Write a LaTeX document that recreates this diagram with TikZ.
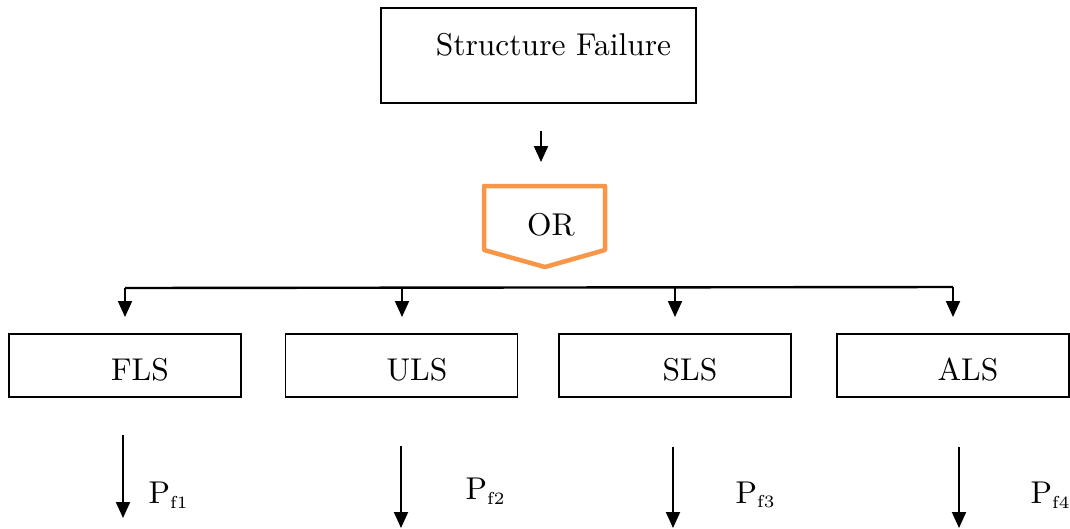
\documentclass[tikz,border=0pt]{standalone}
\usetikzlibrary{arrows.meta}
\definecolor{gateorange}{HTML}{F79646}
% labels are set at the 10pt design size and enlarged
\newcommand\biglabel[1]{\scalebox{3.15}{\fontsize{10}{12}\selectfont #1}}
% failure probability symbol with a small subscript
\newcommand\pfail[1]{P\raisebox{-0.35ex}{\fontsize{5.5}{6}\selectfont f#1}}
\begin{document}
\begin{tikzpicture}[x=1pt,y=-1pt,
  box/.style={draw=black,line width=1.2pt,minimum width=#1,inner sep=0pt},
  box/.default=232pt,
  lsbox/.style={box,minimum height=63pt},
  flow/.style={line width=2pt,-{Triangle[length=16pt,width=14pt]}},
  bus/.style={line width=2.4pt},
  gate/.style={draw=gateorange,line width=4.5pt,line join=round}]
\useasboundingbox (0,0) rectangle (1070,528);

% top event
\node[box=315pt,minimum height=95pt] (top) at (538.5,55.5) {};
\node (toptext) at (553.5,45) {\biglabel{Structure Failure}};

% arrow into the OR gate
\coordinate (a1) at (541,131);
\coordinate (a2) at (541,162);
\draw[flow] (a1) -- (a2);

% OR gate
\draw[gate] (484,186) -- (605,186) -- (605,250) -- (545,267) -- (484,250) -- cycle;
\node (or) at (551,225) {\biglabel{OR}};

% distribution bus with its four drops
\coordinate (b1) at (125,288);
\coordinate (b2) at (402,288);
\coordinate (b3) at (675,287.5);
\coordinate (b4) at (953,287);
\coordinate (d1) at (125,317);
\coordinate (d2) at (402,317);
\coordinate (d3) at (675,317);
\coordinate (d4) at (953,317);
\draw[bus] (b1) -- (b4);
\foreach \i in {1,...,4} \draw[flow] (b\i) -- (d\i);

% limit-state boxes
\node[lsbox] (fls) at (125,365.5) {};
\node[lsbox] (uls) at (401.5,365.5) {};
\node[lsbox] (sls) at (675,365.5) {};
\node[lsbox] (als) at (953,365.5) {};
\node (flst) at (140,370) {\biglabel{FLS}};
\node (ulst) at (417,370) {\biglabel{ULS}};
\node (slst) at (690,370) {\biglabel{SLS}};
\node (alst) at (968,370) {\biglabel{ALS}};

% failure-probability outputs
\coordinate (o1) at (123,435);  \coordinate (e1) at (123,518);
\coordinate (o2) at (401,446);  \coordinate (e2) at (401,528);
\coordinate (o3) at (673,447);  \coordinate (e3) at (673,528);
\coordinate (o4) at (959,447);  \coordinate (e4) at (959,528);
\foreach \i in {1,...,4} \draw[flow] (o\i) -- (e\i);
\node (p1) at (168,495) {\biglabel{\pfail{1}}};
\node (p2) at (485,491) {\biglabel{\pfail{2}}};
\node (p3) at (755,495) {\biglabel{\pfail{3}}};
\node (p4) at (1050,495) {\biglabel{\pfail{4}}};
\end{tikzpicture}
\end{document}
